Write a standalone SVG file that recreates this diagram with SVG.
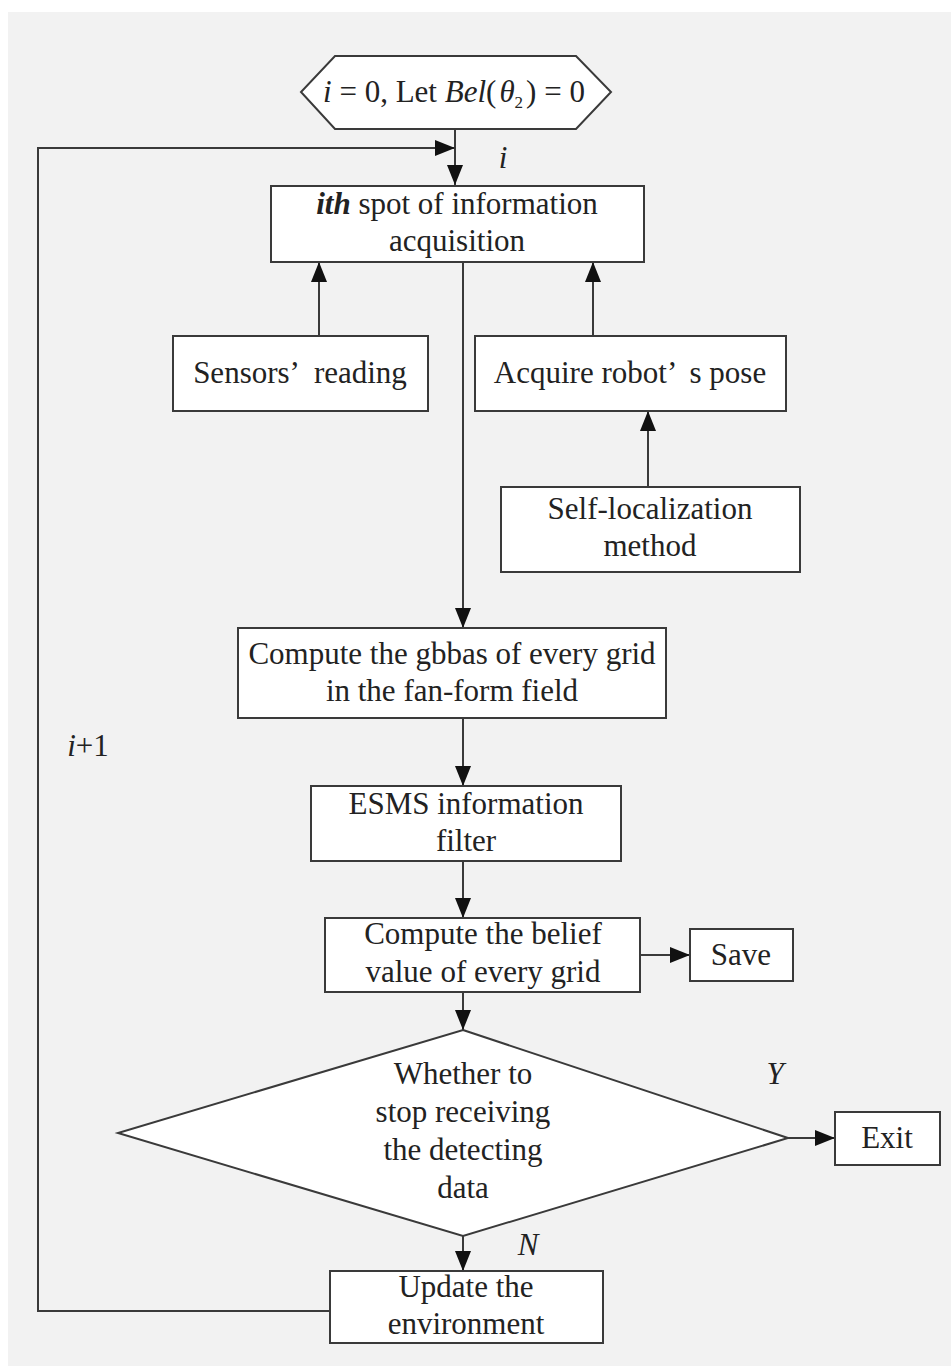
<svg xmlns="http://www.w3.org/2000/svg" width="951" height="1366" viewBox="0 0 951 1366">
<defs>
<style>
.bx{fill:#fff;stroke:#3a3a3a;stroke-width:2}
.ln{fill:none;stroke:#3a3a3a;stroke-width:2}
.t{font-family:"Liberation Serif","Times New Roman",serif;font-size:31px;fill:#222;text-anchor:middle}
.it{font-style:italic}
</style>
<marker id="ah" viewBox="0 0 20 16" refX="20" refY="8" markerWidth="20" markerHeight="16" markerUnits="userSpaceOnUse" orient="auto">
<path d="M0,0 L20,8 L0,16 Z" fill="#111"/>
</marker>
</defs>
<rect x="0" y="0" width="951" height="1366" fill="#fff"/>
<rect x="8" y="12" width="943" height="1354" fill="#f2f2f2"/>
<g id="connectors">
<path class="ln" d="M455,129 V185" marker-end="url(#ah)"/>
<path class="ln" d="M330,1311 H38 V148 H455" marker-end="url(#ah)"/>
<path class="ln" d="M319,336 V262" marker-end="url(#ah)"/>
<path class="ln" d="M593,336 V262" marker-end="url(#ah)"/>
<path class="ln" d="M648,487 V411" marker-end="url(#ah)"/>
<path class="ln" d="M463,262 V628" marker-end="url(#ah)"/>
<path class="ln" d="M463,718 V786" marker-end="url(#ah)"/>
<path class="ln" d="M463,861 V918" marker-end="url(#ah)"/>
<path class="ln" d="M640,955 H690" marker-end="url(#ah)"/>
<path class="ln" d="M463,992 V1030" marker-end="url(#ah)"/>
<path class="ln" d="M788,1138 H835" marker-end="url(#ah)"/>
<path class="ln" d="M463,1236 V1271" marker-end="url(#ah)"/>
<text class="t it" x="503" y="168">i</text>
<text class="t" x="88" y="756"><tspan class="it">i</tspan>+1</text>
<text class="t it" x="775" y="1084">Y</text>
<text class="t it" x="528" y="1255">N</text>
</g>
<g id="start">
<polygon class="bx" points="335,56 576,56 611,92 576,129 335,129 301,92"/>
<text class="t" x="454" y="102" font-size="29"><tspan class="it">i</tspan> = 0, Let <tspan class="it">Bel</tspan>(<tspan class="it" dx="3">θ</tspan><tspan font-size="17" dy="6">2</tspan><tspan dy="-6" dx="3">) = 0</tspan></text>
</g>
<g id="acq">
<rect class="bx" x="271" y="186" width="373" height="76"/>
<text class="t" x="457" y="214"><tspan font-weight="bold" font-style="italic">ith</tspan> spot of information</text>
<text class="t" x="457" y="251">acquisition</text>
</g>
<g id="sensors">
<rect class="bx" x="173" y="336" width="255" height="75"/>
<text class="t" x="300" y="383">Sensors’<tspan dx="14">reading</tspan></text>
</g>
<g id="pose">
<rect class="bx" x="475" y="336" width="311" height="75"/>
<text class="t" x="630" y="383">Acquire robot’<tspan dx="14">s pose</tspan></text>
</g>
<g id="selfloc">
<rect class="bx" x="501" y="487" width="299" height="85"/>
<text class="t" x="650" y="519">Self-localization</text>
<text class="t" x="650" y="556">method</text>
</g>
<g id="gbbas">
<rect class="bx" x="238" y="628" width="428" height="90"/>
<text class="t" x="452" y="664">Compute the gbbas of every grid</text>
<text class="t" x="452" y="701">in the fan-form field</text>
</g>
<g id="esms">
<rect class="bx" x="311" y="786" width="310" height="75"/>
<text class="t" x="466" y="814">ESMS information</text>
<text class="t" x="466" y="851">filter</text>
</g>
<g id="belief">
<rect class="bx" x="325" y="918" width="315" height="74"/>
<text class="t" x="483" y="944">Compute the belief</text>
<text class="t" x="483" y="982">value of every grid</text>
</g>
<g id="save">
<rect class="bx" x="690" y="929" width="103" height="52"/>
<text class="t" x="741" y="965">Save</text>
</g>
<g id="decision">
<polygon class="bx" points="463,1030 788,1138 463,1236 118,1133"/>
<text class="t" x="463" y="1084">Whether to</text>
<text class="t" x="463" y="1122">stop receiving</text>
<text class="t" x="463" y="1160">the detecting</text>
<text class="t" x="463" y="1198">data</text>
</g>
<g id="exit">
<rect class="bx" x="835" y="1112" width="105" height="53"/>
<text class="t" x="887" y="1148">Exit</text>
</g>
<g id="update">
<rect class="bx" x="330" y="1271" width="273" height="72"/>
<text class="t" x="466" y="1297">Update the</text>
<text class="t" x="466" y="1334">environment</text>
</g>
</svg>
